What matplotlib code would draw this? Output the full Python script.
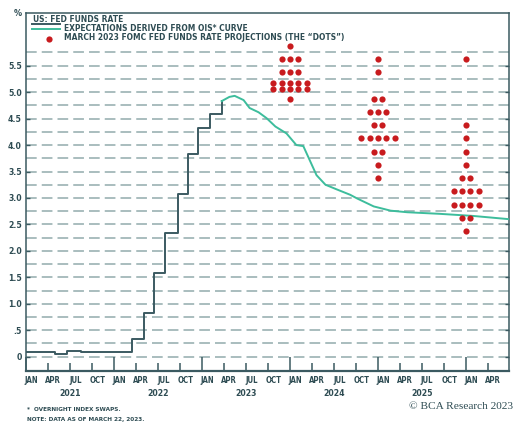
import numpy as np
import pandas as pd
import matplotlib
matplotlib.use('Agg')
from matplotlib import pyplot as plt
from matplotlib import transforms

DARK = '#3b5a61'
TEAL = '#3dbd9c'
RED = '#c81b1e'
GRID = '#a9bdbe'
TEXT = '#2e4c53'
FONT = ['DejaVu Sans']
STRETCH = 'condensed'

# US fed funds rate (step, post)
ff_dates = ['2021-01-01', '2021-05-01', '2021-06-17', '2021-08-15',
            '2022-03-17', '2022-05-05', '2022-06-16', '2022-07-28',
            '2022-09-22', '2022-11-03', '2022-12-15', '2023-02-02',
            '2023-03-22']
ff_rate = [0.08, 0.06, 0.10, 0.08, 0.33, 0.83, 1.58, 2.33, 3.08, 3.83,
           4.33, 4.58, 4.83]

# expectations derived from OIS curve
ois_dates = ['2023-03-22', '2023-04-23', '2023-05-15', '2023-06-21',
             '2023-07-16', '2023-08-22', '2023-09-24', '2023-10-31',
             '2023-12-16', '2024-01-26', '2024-02-24', '2024-03-21',
             '2024-04-19', '2024-05-26', '2024-07-13', '2024-09-06',
             '2024-10-05', '2024-12-13', '2025-02-21', '2025-05-01',
             '2025-09-13', '2026-01-30', '2026-06-25']
ois_rate = [4.83, 4.91, 4.93, 4.85, 4.70, 4.62, 4.51, 4.35, 4.22, 4.00,
            3.98, 3.72, 3.43, 3.25, 3.16, 3.06, 2.99, 2.84, 2.76, 2.73,
            2.70, 2.66, 2.60]

# March 2023 FOMC dots: (date, levels, counts)
dot_dates = ['2023-12-31', '2024-12-31', '2025-12-31']
dots_2023_levels = [5.875, 5.625, 5.375, 5.125, 4.875]
dots_2023_counts = [1, 3, 3, 10, 1]
dots_2024_levels = [5.625, 5.375, 4.875, 4.625, 4.375, 4.125, 3.875, 3.625,
                    3.375]
dots_2024_counts = [1, 1, 2, 3, 2, 5, 2, 1, 1]
dots_2025_levels = [5.625, 4.375, 4.125, 3.875, 3.625, 3.375, 3.125, 2.875,
                    2.625, 2.375]
dots_2025_counts = [1, 1, 1, 1, 1, 2, 4, 4, 2, 1]

month_labels = ['JAN', 'APR', 'JUL', 'OCT']
years = [2021, 2022, 2023, 2024, 2025, 2026]
ytick_values = [0, 0.5, 1.0, 1.5, 2.0, 2.5, 3.0, 3.5, 4.0, 4.5, 5.0, 5.5]
ytick_labels = ['0', '.5', '1.0', '1.5', '2.0', '2.5', '3.0', '3.5', '4.0',
                '4.5', '5.0', '5.5']


def to_year(dates):
    d = pd.to_datetime(pd.Series(dates))
    days = np.where(d.dt.is_leap_year, 366, 365)
    return (d.dt.year + (d.dt.dayofyear - 1) / days).to_numpy()


fig = plt.figure(figsize=(5.17, 4.24), dpi=100)
ax = fig.add_axes([0.0511, 0.1257, 0.9325, 0.8429])
ax.set_xlim(2021.0, 2026.48)
ax.set_ylim(-0.265, 6.49)

# dashed gridlines every 0.25
for g in np.arange(0, 5.76, 0.25):
    ax.axhline(g, color=GRID, lw=1.4, ls=(0, (5.5, 2.6)), zorder=1)

ax.step(to_year(ff_dates), ff_rate, where='post', color=DARK, lw=1.4,
        zorder=3)
ax.plot(to_year(ois_dates), ois_rate, color=TEAL, lw=1.4, zorder=3)

# dots
dx = 0.095
dy = 0.057
dot_sets = [(dots_2023_levels, dots_2023_counts),
            (dots_2024_levels, dots_2024_counts),
            (dots_2025_levels, dots_2025_counts)]
for xc, (levels, counts) in zip(to_year(dot_dates), dot_sets):
    xs, ys = [], []
    for lev, n in zip(levels, counts):
        rows = [n] if n <= 5 else [n - n // 2, n // 2]
        offs = [0.0] if len(rows) == 1 else [dy, -dy]
        for k, off in zip(rows, offs):
            for i in range(k):
                xs.append(xc + (i - (k - 1) / 2) * dx)
                ys.append(lev + off)
    ax.scatter(xs, ys, s=20, color=RED, zorder=4, linewidths=0)

# spines and ticks
for side in ['left', 'right', 'top']:
    ax.spines[side].set_color(DARK)
    ax.spines[side].set_linewidth(1.1)
ax.spines['bottom'].set_color(DARK)
ax.spines['bottom'].set_linewidth(1.6)

ax.set_yticks(ytick_values)
ax.set_yticklabels(ytick_labels, fontsize=6.2, fontweight='bold',
                   color=TEXT, family=FONT, fontstretch=STRETCH)
ax.tick_params(axis='y', direction='in', length=3, width=1, color=DARK,
               pad=3.2, right=True)

quarters = [y + q / 4 for y in years for q in range(4) if y + q / 4 < 2026.4]
major = [q for q in quarters if q == int(q)]
minor = [q for q in quarters if q != int(q)]
ax.set_xticks(major)
ax.set_xticks(minor, minor=True)
ax.set_xticklabels([])
ax.tick_params(axis='x', which='major', direction='in', length=10, width=1.1,
               color=DARK)
ax.tick_params(axis='x', which='minor', direction='in', length=5.8,
               width=1.1, color=DARK)

trans = transforms.blended_transform_factory(ax.transData, ax.transAxes)
for q in quarters:
    lab = month_labels[int(round((q - int(q)) * 4))]
    ax.text(q + 0.055, -0.028, lab, transform=trans, ha='center',
            va='center', fontsize=5.6, fontweight='bold', color=TEXT,
            family=FONT, fontstretch=STRETCH)
for y in years[:-1]:
    ax.text(y + 0.5, -0.0625, str(y), transform=trans, ha='center',
            va='center', fontsize=6.2, fontweight='bold', color=TEXT,
            family=FONT, fontstretch=STRETCH)

# legend
leg = dict(transform=ax.transAxes, ha='left', va='center', fontsize=6.0,
           fontweight='bold', color=TEXT, family=FONT, fontstretch=STRETCH)
ax.plot([0.0116, 0.0697], [0.970, 0.970], transform=ax.transAxes,
        color=DARK, lw=1.4, clip_on=False)
ax.text(0.0127, 0.982, 'US: FED FUNDS RATE', **leg)
ax.plot([0.0116, 0.0697], [0.956, 0.956], transform=ax.transAxes,
        color=TEAL, lw=1.4)
ax.text(0.078, 0.957, 'EXPECTATIONS DERIVED FROM OIS* CURVE', **leg)
ax.scatter([0.0469], [0.9295], transform=ax.transAxes, s=20, color=RED,
           linewidths=0)
ax.text(0.078, 0.931,
        'MARCH 2023 FOMC FED FUNDS RATE PROJECTIONS (THE \u201cDOTS\u201d)',
        **leg)

fig.text(0.043, 0.969, '%', ha='right', va='center', fontsize=6.5,
         fontweight='bold', color=TEXT, family=FONT, fontstretch=STRETCH)
fig.text(0.052, 0.034, '*  OVERNIGHT INDEX SWAPS.', ha='left', va='center',
         fontsize=4.6, fontweight='bold', color=TEXT, family=FONT,
         fontstretch=STRETCH)
fig.text(0.052, 0.010, 'NOTE: DATA AS OF MARCH 22, 2023.', ha='left',
         va='center', fontsize=4.6, fontweight='bold', color=TEXT,
         family=FONT, fontstretch=STRETCH)
fig.text(0.992, 0.041, '\u00a9 BCA Research 2023', ha='right', va='center',
         fontsize=8.2, color=TEXT,
         family=['Liberation Serif', 'DejaVu Serif'])

fig.savefig('out.png', dpi=100)
